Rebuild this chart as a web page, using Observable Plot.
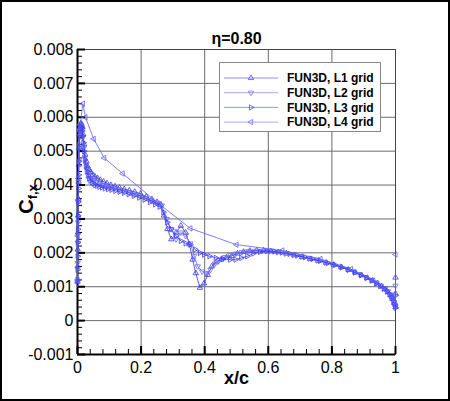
<!DOCTYPE html>
<html><head><meta charset="utf-8">
<script src="https://cdn.jsdelivr.net/npm/d3@7"></script>
<script src="https://cdn.jsdelivr.net/npm/@observablehq/plot@0.6"></script>
<style>body{margin:0;background:#fff}</style>
</head><body><div id="chart"></div>
<script>
const title = "η=0.80";
const xLabel = "x/c";
const xTicks = [0, 0.2, 0.4, 0.6, 0.8, 1];
const xTickLabels = ["0", "0.2", "0.4", "0.6", "0.8", "1"];
const yTicks = [-0.001, 0, 0.001, 0.002, 0.003, 0.004, 0.005, 0.006, 0.007, 0.008];
const yTickLabels = ["-0.001", "0", "0.001", "0.002", "0.003", "0.004", "0.005", "0.006", "0.007", "0.008"];
const seriesNames = ["FUN3D, L1 grid", "FUN3D, L2 grid", "FUN3D, L3 grid", "FUN3D, L4 grid"];

const l1 = [[0,0.00115],[0.0003,0.0016],[0.0007,0.0021],[0.0012,0.0026],[0.0018,0.0031],[0.0025,0.0036],[0.0033,0.0041],[0.0042,0.0046],[0.0052,0.0051],[0.0064,0.0055],[0.0078,0.0057],[0.0094,0.0058],[0.0112,0.00582],[0.0132,0.00578],[0.0155,0.0057],[0.018,0.0055],[0.021,0.0052],[0.024,0.0049],[0.028,0.0047],[0.032,0.00455],[0.037,0.00445],[0.042,0.00438],[0.048,0.0043],[0.055,0.00425],[0.063,0.0042],[0.072,0.00415],[0.082,0.0041],[0.093,0.00405],[0.105,0.004],[0.118,0.00396],[0.132,0.00392],[0.147,0.00388],[0.163,0.00384],[0.18,0.0038],[0.198,0.00374],[0.216,0.00366],[0.234,0.00358],[0.25,0.0035],[0.262,0.00342],[0.272,0.0031],[0.283,0.0027],[0.295,0.0024],[0.31,0.0026],[0.325,0.0028],[0.34,0.0026],[0.352,0.00225],[0.362,0.0018],[0.372,0.0014],[0.385,0.00097],[0.398,0.0011],[0.41,0.00135],[0.422,0.0016],[0.436,0.00172],[0.452,0.0018],[0.468,0.00186],[0.485,0.00191],[0.503,0.00198],[0.522,0.00203],[0.542,0.00206],[0.563,0.00207],[0.585,0.00207],[0.608,0.00205],[0.632,0.00202],[0.657,0.00198],[0.682,0.00193],[0.707,0.00188],[0.732,0.00182],[0.757,0.00177],[0.782,0.00171],[0.806,0.00165],[0.83,0.00158],[0.852,0.0015],[0.873,0.00142],[0.893,0.00134],[0.911,0.00126],[0.928,0.00118],[0.943,0.0011],[0.956,0.00101],[0.967,0.00093],[0.977,0.00084],[0.985,0.00074],[0.991,0.00064],[0.996,0.00052],[1.0,0.0004],[1.0,0.0008],[1.0,0.00127]];

const l2 = [[0,0.0011],[0.0004,0.0017],[0.0009,0.0023],[0.0015,0.0029],[0.0022,0.0035],[0.003,0.0041],[0.004,0.0047],[0.0052,0.0052],[0.0066,0.0056],[0.0082,0.00575],[0.01,0.00578],[0.012,0.00575],[0.0143,0.00565],[0.0168,0.0054],[0.0196,0.0051],[0.0228,0.0048],[0.0265,0.00462],[0.0305,0.00448],[0.035,0.00437],[0.04,0.00428],[0.046,0.0042],[0.053,0.00414],[0.061,0.00409],[0.07,0.00404],[0.08,0.004],[0.091,0.00396],[0.103,0.00393],[0.116,0.0039],[0.13,0.00386],[0.145,0.00383],[0.161,0.00379],[0.178,0.00374],[0.196,0.00369],[0.214,0.00362],[0.232,0.00355],[0.25,0.00348],[0.265,0.0034],[0.28,0.003],[0.295,0.0027],[0.31,0.0024],[0.325,0.0026],[0.34,0.0025],[0.355,0.00228],[0.367,0.0019],[0.378,0.0016],[0.392,0.00145],[0.405,0.0014],[0.418,0.0015],[0.432,0.00168],[0.447,0.0018],[0.463,0.00187],[0.48,0.00193],[0.498,0.00198],[0.517,0.00202],[0.537,0.00205],[0.558,0.00206],[0.58,0.00206],[0.603,0.00205],[0.627,0.00202],[0.652,0.00198],[0.677,0.00194],[0.702,0.00189],[0.727,0.00184],[0.752,0.00178],[0.777,0.00172],[0.801,0.00166],[0.825,0.00159],[0.848,0.00152],[0.869,0.00144],[0.889,0.00136],[0.907,0.00128],[0.924,0.0012],[0.94,0.00112],[0.954,0.00103],[0.966,0.00095],[0.976,0.00086],[0.984,0.00077],[0.991,0.00066],[0.996,0.00054],[1.0,0.00042],[1.0,0.00103]];

const l3 = [[0,0.0012],[0.0002,0.0015],[0.0005,0.0019],[0.0009,0.0023],[0.0013,0.0027],[0.0018,0.0031],[0.0024,0.0035],[0.0031,0.0039],[0.0039,0.0043],[0.0048,0.0047],[0.0058,0.0051],[0.007,0.0054],[0.0083,0.0056],[0.0097,0.0057],[0.0112,0.00572],[0.0128,0.00568],[0.0146,0.0056],[0.0165,0.00545],[0.0186,0.00525],[0.0209,0.005],[0.0234,0.00475],[0.0262,0.00455],[0.0293,0.0044],[0.0327,0.00428],[0.0365,0.00419],[0.0407,0.00413],[0.0453,0.00408],[0.0504,0.00404],[0.056,0.004],[0.062,0.00398],[0.069,0.00395],[0.077,0.00393],[0.086,0.0039],[0.096,0.00388],[0.107,0.00386],[0.119,0.00383],[0.132,0.0038],[0.146,0.00377],[0.161,0.00373],[0.177,0.00368],[0.194,0.00363],[0.211,0.00357],[0.228,0.0035],[0.244,0.00343],[0.258,0.00336],[0.27,0.0032],[0.282,0.0029],[0.295,0.0027],[0.31,0.0025],[0.325,0.00235],[0.34,0.00228],[0.355,0.00224],[0.37,0.0021],[0.385,0.002],[0.398,0.00195],[0.415,0.0019],[0.435,0.00185],[0.457,0.00182],[0.48,0.0018],[0.497,0.0018],[0.515,0.00185],[0.534,0.0019],[0.553,0.00198],[0.574,0.00203],[0.596,0.00205],[0.619,0.00204],[0.643,0.00201],[0.667,0.00197],[0.691,0.00192],[0.715,0.00187],[0.739,0.00182],[0.763,0.00176],[0.787,0.0017],[0.81,0.00164],[0.832,0.00157],[0.853,0.0015],[0.873,0.00142],[0.892,0.00134],[0.909,0.00126],[0.925,0.00118],[0.939,0.0011],[0.952,0.00102],[0.963,0.00094],[0.973,0.00086],[0.981,0.00078],[0.988,0.00068],[0.993,0.00058],[0.997,0.00048],[1.0,0.00038],[1.0,0.00074]];

const l4 = [[0,0.0012],[0.0008,0.0025],[0.0025,0.0042],[0.006,0.0056],[0.017,0.0064],[0.025,0.006],[0.051,0.00536],[0.084,0.0048],[0.142,0.00434],[0.258,0.00343],[0.355,0.00272],[0.5,0.00224],[0.644,0.00207],[0.764,0.00182],[0.86,0.00152],[0.93,0.00118],[0.97,0.0009],[0.99,0.00065],[1.0,0.00045],[1.0,0.00195]];

const colors = ["#3535ee", "#6a6af4", "#3f3ff0", "#6060f2"];

const sqrt3 = Math.sqrt(3);
function tri(angle) {
  const c = Math.cos(angle), s = Math.sin(angle);
  return {draw(ctx, size) {
    const y = -Math.sqrt(size / (sqrt3 * 3));
    const pts = [[0, 2 * y], [-sqrt3 * y, -y], [sqrt3 * y, -y]].map(([px, py]) => [px * c - py * s, px * s + py * c]);
    ctx.moveTo(pts[0][0], pts[0][1]);
    ctx.lineTo(pts[1][0], pts[1][1]);
    ctx.lineTo(pts[2][0], pts[2][1]);
    ctx.closePath();
  }};
}
const symbols = [tri(0), tri(Math.PI), tri(Math.PI / 2), tri(-Math.PI / 2)];
const seriesData = [l1, l2, l3, l4];

const W = 450, H = 401, mL = 77, mR = 55, mT = 49, mB = 47;
const pw = W - mL - mR, ph = H - mT - mB;
const xMinor = d3.range(0, 26).map(i => i * 0.04);
const yMinor = d3.range(0, 46).map(i => -0.001 + i * 0.0002);
const xLenMinor = 5 / pw, xLenMajor = 8 / pw;
const yLenMinor = 5 / ph * 0.009, yLenMajor = 8 / ph * 0.009;

const font = "'Liberation Sans', Arial, Helvetica, sans-serif";

const marks = [
  Plot.gridX(xTicks.slice(1, -1), {stroke: "#6a6a6a", strokeOpacity: 1, strokeWidth: 1}),
  Plot.gridY(yTicks.slice(1, -1), {stroke: "#6a6a6a", strokeOpacity: 1, strokeWidth: 1}),
  Plot.frame({stroke: "#444", strokeWidth: 1}),
  Plot.ruleY(yMinor, {y: d => d, x1: 0, x2: xLenMinor, stroke: "black", strokeWidth: 1}),
  Plot.ruleY(yTicks, {y: d => d, x1: 0, x2: xLenMajor, stroke: "black", strokeWidth: 2}),
  Plot.ruleX(xMinor, {x: d => d, y1: -0.001, y2: -0.001 + yLenMinor, stroke: "black", strokeWidth: 1}),
  Plot.ruleX(xTicks, {x: d => d, y1: -0.001, y2: -0.001 + yLenMajor, stroke: "black", strokeWidth: 2}),
  Plot.ruleX([0], {stroke: "black", strokeWidth: 2}),
  Plot.ruleY([-0.001], {stroke: "black", strokeWidth: 2}),
  ...seriesData.flatMap((data, i) => [
    Plot.line(data, {x: d => d[0], y: d => d[1], stroke: colors[i], strokeWidth: 0.8}),
    Plot.dot(data, {x: d => d[0], y: d => d[1], symbol: symbols[i], r: 2.0, stroke: colors[i], fill: "none", strokeWidth: 0.8})
  ]),
  Plot.text(yTicks, {x: 0, y: d => d, text: (d, i) => yTickLabels[i], textAnchor: "end", dx: -4, fontSize: 16, fill: "black"}),
  Plot.text(xTicks, {x: d => d, y: -0.001, text: (d, i) => xTickLabels[i], dy: 13, fontSize: 16, fill: "black"}),
  Plot.text([xLabel], {frameAnchor: "bottom", dy: 29, fontSize: 18, fontWeight: "bold", fill: "black"}),
  Plot.text([title], {frameAnchor: "top", dy: -17, fontSize: 16, fontWeight: "bold", fill: "black"})
];

const chart = Plot.plot({
  width: W, height: H,
  marginLeft: mL, marginRight: mR, marginTop: mT, marginBottom: mB,
  x: {domain: [0, 1], axis: null},
  y: {domain: [-0.001, 0.008], axis: null},
  style: {fontFamily: font, background: "white", overflow: "visible"},
  marks
});

const svg = d3.select(chart);
// y-axis title with subscript
const yl = svg.append("text")
  .attr("transform", "translate(26,199) rotate(-90)")
  .attr("text-anchor", "middle")
  .attr("font-family", font).attr("font-weight", "bold").attr("fill", "black");
yl.append("tspan").attr("font-size", 20).attr("dy", "0.35em").text("C");
yl.append("tspan").attr("font-size", 13).attr("dy", "0.3em").text("f,x");

// legend
const lg = svg.append("g");
lg.append("rect").attr("x", 219.5).attr("y", 62.5).attr("width", 161).attr("height", 69)
  .attr("fill", "white").attr("stroke", "#888").attr("stroke-width", 1);
seriesNames.forEach((name, i) => {
  const y = 78 + i * 14.7;
  lg.append("line").attr("x1", 224).attr("x2", 278).attr("y1", y).attr("y2", y)
    .attr("stroke", colors[i]).attr("stroke-width", 0.7).attr("stroke-opacity", 0.8);
  lg.append("path").attr("transform", `translate(251,${y})`)
    .attr("d", d3.symbol(symbols[i], 2.0 * 2.0 * Math.PI)())
    .attr("fill", "none").attr("stroke", colors[i]).attr("stroke-width", 0.7);
  lg.append("text").attr("x", 287).attr("y", y).attr("dy", "0.36em")
    .attr("text-anchor", "start")
    .attr("font-family", font).attr("font-size", 12).attr("font-weight", "bold").attr("fill", "black")
    .text(name);
});
// outer border
svg.append("rect").attr("x", 1).attr("y", 1).attr("width", W - 2).attr("height", H - 2)
  .attr("fill", "none").attr("stroke", "black").attr("stroke-width", 2);

document.getElementById("chart").appendChild(chart);
</script>
</body></html>
